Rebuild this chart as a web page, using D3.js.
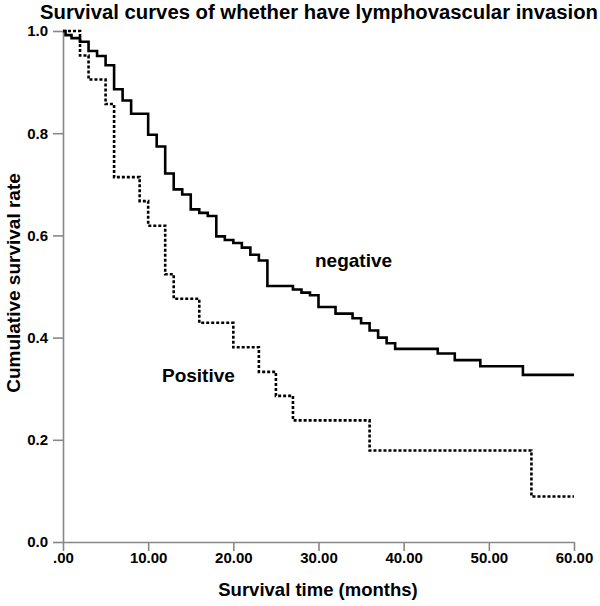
<!DOCTYPE html>
<html>
<head>
<meta charset="utf-8">
<script src="https://cdn.jsdelivr.net/npm/d3@7"></script>
<style>
  body { margin: 0; background: #fff; }
  svg { display: block; font-family: "Liberation Sans", Arial, sans-serif; }
</style>
</head>
<body>
<div id="chart"></div>
<script>
// Kaplan-Meier steps (months, cumulative survival)
const negTime = [0, 0.3, 1, 2, 3, 4, 5, 6, 7, 8, 10, 11, 12, 13, 14, 15, 16, 17, 18, 19,
  20, 21, 22, 23, 24, 27, 28, 29, 30, 32, 34, 35, 36, 37, 38, 39, 44, 46, 49, 54, 60];
const negSurv = [1.0, 0.992, 0.986, 0.979, 0.961, 0.951, 0.933, 0.886, 0.864, 0.838,
  0.797, 0.774, 0.721, 0.690, 0.680, 0.651, 0.644, 0.638, 0.598, 0.591,
  0.585, 0.576, 0.562, 0.551, 0.501, 0.494, 0.488, 0.483, 0.460, 0.447,
  0.438, 0.428, 0.414, 0.400, 0.389, 0.378, 0.369, 0.356, 0.344, 0.327, 0.327];

const posTime = [0, 2, 3, 5, 6, 9, 10, 12, 13, 16, 20, 23, 25, 27, 36, 55, 60];
const posSurv = [1.0, 0.952, 0.905, 0.857, 0.714, 0.667, 0.619, 0.524, 0.476, 0.429,
  0.381, 0.333, 0.286, 0.238, 0.179, 0.089, 0.089];

const xTicks = [0, 10, 20, 30, 40, 50, 60];
const yTicks = [0, 0.2, 0.4, 0.6, 0.8, 1.0];

const width = 600, height = 606;

const svg = d3.select("#chart").append("svg")
  .attr("width", width)
  .attr("height", height);

const x = d3.scaleLinear().domain([0, 60]).range([63, 574]);
const y = d3.scaleLinear().domain([0, 1]).range([542, 31]);

// axes
const axisColor = "#888";

const gx = svg.append("g")
  .attr("transform", `translate(0,${y(0)})`)
  .call(d3.axisBottom(x)
    .tickValues(xTicks)
    .tickFormat(d => d === 0 ? ".00" : d.toFixed(2))
    .tickSize(9)
    .tickPadding(1)
    .tickSizeOuter(0));

const gy = svg.append("g")
  .attr("transform", `translate(${x(0)},0)`)
  .call(d3.axisLeft(y)
    .tickValues(yTicks)
    .tickFormat(d => d.toFixed(1))
    .tickSize(10)
    .tickPadding(5)
    .tickSizeOuter(0));

[gx, gy].forEach(g => {
  g.select(".domain").attr("stroke", axisColor).attr("stroke-width", 1.6);
  g.selectAll(".tick line").attr("stroke", axisColor).attr("stroke-width", 1.6);
  g.selectAll(".tick text")
    .attr("fill", "#000")
    .style("font-size", "15px")
    .style("font-weight", "bold")
    .style("font-family", "'Liberation Sans', Arial, sans-serif");
});

// curves
const line = d3.line()
  .x(d => x(d[0]))
  .y(d => y(d[1]))
  .curve(d3.curveStepAfter);

svg.append("path")
  .datum(d3.zip(negTime, negSurv))
  .attr("fill", "none")
  .attr("stroke", "#000")
  .attr("stroke-width", 2.6)
  .attr("d", line);

svg.append("path")
  .datum(d3.zip(posTime, posSurv))
  .attr("fill", "none")
  .attr("stroke", "#000")
  .attr("stroke-width", 2.6)
  .attr("stroke-dasharray", "3,2")
  .attr("d", line);

// text
svg.append("text")
  .attr("x", 40)
  .attr("y", 19)
  .style("font-size", "20.3px")
  .style("font-weight", "bold")
  .text("Survival curves of whether have lymphovascular invasion");

svg.append("text")
  .attr("x", 318)
  .attr("y", 596)
  .attr("text-anchor", "middle")
  .style("font-size", "18.5px")
  .style("font-weight", "bold")
  .text("Survival time (months)");

svg.append("text")
  .attr("transform", "translate(20,283) rotate(-90)")
  .attr("text-anchor", "middle")
  .style("font-size", "19px")
  .style("font-weight", "bold")
  .text("Cumulative survival rate");

svg.append("text")
  .attr("x", 315)
  .attr("y", 267)
  .style("font-size", "19px")
  .style("font-weight", "bold")
  .text("negative");

svg.append("text")
  .attr("x", 162)
  .attr("y", 382)
  .style("font-size", "19px")
  .style("font-weight", "bold")
  .text("Positive");
</script>
</body>
</html>
